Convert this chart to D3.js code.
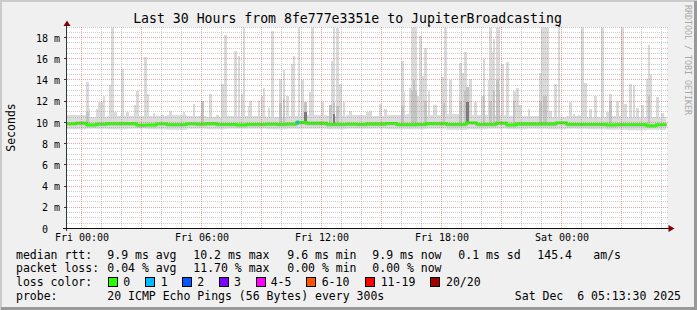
<!DOCTYPE html>
<html><head><meta charset="utf-8">
<script src="https://cdn.jsdelivr.net/npm/d3@7"></script>
<style>
html,body{margin:0;padding:0;background:#f0f0f0;}
svg{display:block;}
text{font-family:"DejaVu Sans Mono",monospace;white-space:pre;}
</style></head><body>
<svg id="c" width="697" height="310"></svg>
<script>
// ---------------- data ----------------
const titleText = "Last 30 Hours from 8fe777e3351e to JupiterBroadcasting";
const xTickHours = [0, 6, 12, 18, 24];           // hours after Fri 00:00
const xTickLabels = ["Fri 00:00", "Fri 06:00", "Fri 12:00", "Fri 18:00", "Sat 00:00"];
const yTickValues = [0, 2, 4, 6, 8, 10, 12, 14, 16, 18]; // ms
const yTickLabels = ["0", "2 m", "4 m", "6 m", "8 m", "10 m", "12 m", "14 m", "16 m", "18 m"];
const startHour = -0.75, endHour = 29.25;          // Thu 23:15 .. Sat 05:15
const yMaxMs = 19;
const stepsPerHour = 12;                           // 300 s steps
// median rtt (ms) per half hour
const medianHalfHour = [
  9.87, 9.95, 9.77, 9.85, 9.88, 9.88, 9.88, 9.75, 9.77, 9.87, 9.80, 9.80, 9.87, 9.85, 9.88,
  9.83, 9.83, 9.77, 9.83, 9.83, 9.85, 9.83, 9.85, 10.0, 9.93, 9.93, 9.83, 9.83, 9.85, 9.83,
  9.86, 9.86, 9.92, 9.80, 9.80, 9.83, 9.88, 9.88, 9.83, 9.83, 9.97, 9.83, 9.83, 9.95, 9.77,
  9.86, 9.86, 9.86, 9.86, 9.97, 9.83, 9.83, 9.83, 9.83, 9.77, 9.80, 9.80, 9.80, 9.70, 9.80
];
// low-level smoke band (ms) per hour
const smokeHiHourly = [10.7, 10.5, 10.6, 10.6, 10.6, 10.7, 10.6, 10.5, 10.6, 10.6, 10.5, 10.6, 10.7, 10.6, 10.7,
  10.6, 10.7, 10.8, 10.7, 10.8, 10.7, 10.7, 10.6, 10.6, 10.5, 10.6, 10.5, 10.6, 10.5, 10.5];
const smokeLoHourly = [9.35, 9.4, 9.35, 9.4, 9.35, 9.3, 9.4, 9.35, 9.4, 9.4, 9.35, 9.4, 9.4, 9.35, 9.4,
  9.4, 9.35, 9.35, 9.4, 9.3, 9.35, 9.4, 9.35, 9.4, 9.35, 9.4, 9.35, 9.3, 9.25, 9.3];
// maximum ping (ms) of steps whose smoke sticks out of the band
const spikeSteps = [12, 13, 18, 19, 20, 21, 22, 26, 27, 29, 33, 36, 41, 42, 47, 48, 52, 57, 62, 70, 76, 81, 86,
  90, 93, 95, 101, 103, 105, 106, 109, 110, 115, 117, 118, 121, 123, 128, 130, 132, 135, 136, 139, 141, 143, 146, 147,
  153, 158, 159, 160, 162, 164, 166, 170, 176,
  180, 182, 188, 191, 201, 202, 206, 207, 208, 209, 210, 212, 213, 215, 217, 220, 221, 225, 226, 227, 230, 236, 237,
  239, 240, 242, 245, 249, 250, 253, 254, 255, 256, 258, 259, 261, 264, 268, 269,
  270, 272, 277, 284, 285, 286, 287, 288, 290, 293, 295, 302, 304, 307, 309, 311, 314, 317, 321, 324, 326, 330, 333,
  335, 338, 340, 342, 345, 348, 349, 350, 354, 357];
const spikeMax = [13.85, 11.3, 11.3, 11.9, 11.9, 11.9, 12.5, 13.5, 20, 11.0, 15.0, 11.0, 11.6, 13.0, 16.2, 12.7, 10.9, 10.7, 11.1, 11.0, 11.75, 12.0, 12.7,
  10.7, 13.6, 18.2, 16.7, 16.3, 12.7, 20, 11.5, 12.0, 12.0, 12.5, 13.2, 11.4, 18.6, 14.1, 14.9, 12.5, 15.5, 16.3, 20, 14.0, 11.9, 12.9, 20,
  11.9, 11.6, 15.8, 20, 18.9, 13.6, 11.9, 11.1, 10.65,
  11.0, 11.1, 11.75, 11.3, 15.8, 12.85, 13.2, 20, 20, 20, 12.5, 18.1, 14.4, 17.0, 13.0, 11.6, 11.6, 14.3, 13.2, 20, 13.95, 15.6, 14.7,
  16.6, 13.3, 14.1, 11.9, 12.5, 16.0, 13.95, 20, 16.6, 17.9, 20, 20, 15.5, 15.7, 13.0, 13.0,
  13.2, 11.6, 11.3, 14.7, 20, 20, 20, 20, 11.1, 13.6, 20, 11.9, 10.8, 10.65, 20, 13.7, 11.3, 12.5, 20, 11.0, 12.7, 12.0, 20,
  11.75, 13.6, 13.5, 11.4, 11.6, 14.1, 17.3, 14.6, 12.4, 10.9];
// steps where several pings were high (medium grey smoke)
const coreSteps = [12, 81, 128, 130, 143, 158, 160, 162, 201, 207, 208, 209, 215, 226, 236, 239, 240, 250, 254, 256, 258, 259, 268, 284, 286, 287, 326, 349];
const coreMax = [11.0, 12.0, 11.8, 12.2, 11.9, 11.6, 11.8, 11.5, 11.5, 13.0, 14.0, 13.0, 12.0, 11.8, 12.0, 13.0, 13.3, 12.5, 12.0, 13.0, 14.0, 13.0, 12.0, 12.0, 12.5, 12.5, 12.0, 12.5];
// steps where most pings were high (dark smoke)
const darkSteps = [143, 160, 240];
const darkMax = [11.0, 10.8, 11.9];
// packet loss per step (pings lost of 20), only non-zero steps
const lossSteps = [138];
const lossCounts = [1];
// off-scale marks at the top edge
const offscaleSteps = [217, 295];
// legend
const lossLabels = ["0", "1", "2", "3", "4-5", "6-10", "11-19", "20/20"];
const lossColors = ["#26ff00", "#00b8ff", "#0059ff", "#7e00ff", "#ff00ff", "#ff5500", "#ff0000", "#a10000"];
const lossUpper = [0, 1, 2, 3, 5, 10, 19, 20];
const rttStats = ["9.9 ms avg", "10.2 ms max", "9.6 ms min", "9.9 ms now", "0.1 ms sd", "145.4", "am/s"];
const lossStats = ["0.04 % avg", "11.70 % max", "0.00 % min", "0.00 % now"];
const probeText = "20 ICMP Echo Pings (56 Bytes) every 300s";
const dateText = "Sat Dec  6 05:13:30 2025";

// ---------------- layout ----------------
const W = 697, H = 310;
const P = {left: 66.5, right: 666.5, top: 27, bottom: 228.5};
const svg = d3.select("#c");

const x = d3.scaleLinear().domain([startHour, endHour]).range([P.left, P.right]);
const y = d3.scaleLinear().domain([0, yMaxMs]).range([228.5, 26.9]);
const stepHour = i => startHour + i / stepsPerHour;
const minBar = 2.4;
const barX = s => { const a = x(stepHour(s)), b = x(stepHour(s + 1)); const w = Math.max(b - a, minBar); return (a + b) / 2 - w / 2; };
const barW = s => Math.max(x(stepHour(s + 1)) - x(stepHour(s)), minBar);

// background + shading frame
svg.append("rect").attr("width", W).attr("height", H).attr("fill", "#f0f0f0");
svg.append("rect").attr("x", 0).attr("y", 0).attr("width", W).attr("height", 2).attr("fill", "#cbcbcb");
svg.append("rect").attr("x", 0).attr("y", 0).attr("width", 2).attr("height", H).attr("fill", "#cbcbcb");
svg.append("rect").attr("x", W - 3).attr("y", 1).attr("width", 3).attr("height", H - 1).attr("fill", "#999");
svg.append("rect").attr("x", 1).attr("y", H - 3).attr("width", W - 1).attr("height", 3).attr("fill", "#999");

// canvas
svg.append("rect").attr("x", 67).attr("y", P.top).attr("width", 600).attr("height", 201).attr("fill", "#fff");

svg.append("defs").append("clipPath").attr("id", "plotclip")
  .append("rect").attr("x", 67).attr("y", 27.5).attr("width", 600).attr("height", 201);
const plot = svg.append("g").attr("clip-path", "url(#plotclip)");

// light smoke band
const hourIdx = d3.range(smokeHiHourly.length + 1);
const bandArea = d3.area().curve(d3.curveStepAfter)
  .x(k => x(startHour + k))
  .y0(k => y(smokeLoHourly[Math.min(k, smokeLoHourly.length - 1)]))
  .y1(k => y(smokeHiHourly[Math.min(k, smokeHiHourly.length - 1)]));
plot.append("path").attr("d", bandArea(hourIdx)).attr("fill", "#dcdcdc");

const medAt = i => medianHalfHour[Math.min(Math.floor(i / 6), medianHalfHour.length - 1)];

// light spikes
plot.append("g").attr("shape-rendering", "crispEdges").selectAll("rect")
  .data(spikeSteps.map((s, k) => ({s, v: spikeMax[k]})))
  .join("rect")
  .attr("x", d => barX(d.s))
  .attr("width", d => barW(d.s))
  .attr("y", d => y(d.v))
  .attr("height", d => y(medAt(d.s)) - y(d.v))
  .attr("fill", "#dadada");

// medium smoke band around median
const halfIdx = d3.range(medianHalfHour.length + 1);
const medBand = d3.area().curve(d3.curveStepAfter)
  .x(k => x(startHour + k * 0.5))
  .y0(k => y(medianHalfHour[Math.min(k, medianHalfHour.length - 1)] - 0.22))
  .y1(k => y(medianHalfHour[Math.min(k, medianHalfHour.length - 1)] + 0.12));
plot.append("path").attr("d", medBand(halfIdx)).attr("fill", "#c2c2c2");

// medium spikes
plot.append("g").attr("shape-rendering", "crispEdges").selectAll("rect")
  .data(coreSteps.map((s, k) => ({s, v: coreMax[k]})))
  .join("rect")
  .attr("x", d => barX(d.s))
  .attr("width", d => barW(d.s))
  .attr("y", d => y(d.v))
  .attr("height", d => y(medAt(d.s)) - y(d.v))
  .attr("fill", "#c4c4c4");

// dark band just under the median
const darkBand = d3.area().curve(d3.curveStepAfter)
  .x(k => x(startHour + k * 0.5))
  .y0(k => y(medianHalfHour[Math.min(k, medianHalfHour.length - 1)] - 0.12))
  .y1(k => y(medianHalfHour[Math.min(k, medianHalfHour.length - 1)]));
plot.append("path").attr("d", darkBand(halfIdx)).attr("fill", "#8a8a8a");

plot.append("g").attr("shape-rendering", "crispEdges").selectAll("rect")
  .data(darkSteps.map((s, k) => ({s, v: darkMax[k]})))
  .join("rect")
  .attr("x", d => barX(d.s))
  .attr("width", d => barW(d.s))
  .attr("y", d => y(d.v))
  .attr("height", d => y(medAt(d.s)) - y(d.v))
  .attr("fill", "#7a7a7a");

// grid (drawn over the smoke, as rrdtool does)
const grid = svg.append("g").attr("shape-rendering", "crispEdges").attr("stroke-dasharray", "1,1");
const minorY = d3.range(0.5, yMaxMs + 0.01, 0.5).filter(v => v % 2 !== 0);
const majorY = d3.range(2, yMaxMs, 2);
grid.selectAll(".gy").data(minorY).join("line")
  .attr("x1", 67).attr("x2", 668)
  .attr("y1", v => Math.max(27.5, Math.floor(y(v)) + 0.5)).attr("y2", v => Math.max(27.5, Math.floor(y(v)) + 0.5))
  .attr("stroke", "rgba(143,143,143,0.45)");
const minorX = d3.range(0, 30).filter(h => h % 3 !== 0);
const majorX = d3.range(0, 30, 3);
grid.selectAll(".gx").data(minorX).join("line")
  .attr("x1", h => Math.floor(x(h)) + 0.5).attr("x2", h => Math.floor(x(h)) + 0.5)
  .attr("y1", 27).attr("y2", 228)
  .attr("stroke", "rgba(143,143,143,0.45)");
grid.selectAll(".my").data(majorY).join("line")
  .attr("x1", 67).attr("x2", 668)
  .attr("y1", v => Math.floor(y(v)) + 0.5).attr("y2", v => Math.floor(y(v)) + 0.5)
  .attr("stroke", "rgba(222,80,80,0.5)");
grid.selectAll(".mx").data(majorX).join("line")
  .attr("x1", h => Math.floor(x(h)) + 0.5).attr("x2", h => Math.floor(x(h)) + 0.5)
  .attr("y1", 27).attr("y2", 228)
  .attr("stroke", "rgba(222,80,80,0.5)");

// median line coloured by loss
const medLine = d3.line().curve(d3.curveStepAfter)
  .x(k => x(startHour + k * 0.5))
  .y(k => y(medianHalfHour[Math.min(k, medianHalfHour.length - 1)]));
plot.append("path").attr("d", medLine(halfIdx)).attr("fill", "none")
  .attr("stroke", lossColors[0]).attr("stroke-width", 2.6);
const lossColorFor = n => lossColors[lossUpper.findIndex(u => n <= u)];
plot.selectAll(".loss").data(lossSteps.map((s, k) => ({s, n: lossCounts[k]}))).join("line")
  .attr("x1", d => x(stepHour(d.s))).attr("x2", d => x(stepHour(d.s + 1)) + 0.5)
  .attr("y1", d => y(medAt(d.s))).attr("y2", d => y(medAt(d.s)))
  .attr("stroke", d => lossColorFor(d.n)).attr("stroke-width", 4);

svg.selectAll(".off").data(offscaleSteps).join("rect")
  .attr("x", s => x(stepHour(s))).attr("y", 25).attr("width", 2).attr("height", 2).attr("fill", "#555");

// axes lines + arrows
const axisColor = "#2c3a36";
svg.append("line").attr("x1", 66.5).attr("x2", 66.5).attr("y1", 24).attr("y2", 231)
  .attr("stroke", axisColor).attr("shape-rendering", "crispEdges");
svg.append("line").attr("x1", 63).attr("x2", 669).attr("y1", 228.5).attr("y2", 228.5)
  .attr("stroke", "#111").attr("shape-rendering", "crispEdges");
svg.append("path").attr("d", "M67,20.5 L63.5,26 L70.5,26 Z").attr("fill", "#7f0000");
svg.append("path").attr("d", "M674.5,228.5 L668.5,225 L668.5,232 Z").attr("fill", "#7f0000");
// y ticks
svg.append("g").attr("shape-rendering", "crispEdges").selectAll("line").data(majorY).join("line")
  .attr("x1", 63.5).attr("x2", 66.5)
  .attr("y1", v => Math.floor(y(v)) + 0.5).attr("y2", v => Math.floor(y(v)) + 0.5)
  .attr("stroke", axisColor);

// y axis labels
const yAxis = d3.axisLeft(y).tickValues(yTickValues)
  .tickFormat((d, i) => yTickLabels[i]).tickSize(0).tickPadding(6.5);
const ya = svg.append("g").attr("transform", "translate(66.5,0)").call(yAxis);
ya.select(".domain").remove();
ya.selectAll("text").attr("font-family", "DejaVu Sans Mono").attr("font-size", 10).attr("fill", "#000")
  .attr("dy", "0.36em")
  .attr("dx", (d, i) => yTickLabels[i].indexOf(" ") < 0 ? -12 : 0);

// x axis labels
const xAxis = d3.axisBottom(x).tickValues(xTickHours)
  .tickFormat((d, i) => xTickLabels[i]).tickSize(0).tickPadding(0);
const xa = svg.append("g").attr("transform", "translate(0,228.5)").call(xAxis);
xa.select(".domain").remove();
xa.selectAll("text").attr("font-family", "DejaVu Sans Mono").attr("font-size", 10).attr("fill", "#000")
  .attr("y", 12.8).attr("dy", 0);

// title
svg.append("text").attr("x", 347.5).attr("y", 23).attr("text-anchor", "middle")
  .attr("font-size", 13.2).attr("fill", "#000").text(titleText);

// y axis title
svg.append("text").attr("transform", "translate(15,127.5) rotate(-90)").attr("text-anchor", "middle")
  .attr("font-size", 11.5).attr("fill", "#000").text("Seconds");

// watermark
svg.append("text").attr("transform", "translate(685,5) rotate(90)")
  .attr("font-size", 8.3).attr("fill", "#a8a8a8").text("RRDTOOL / TOBI OETIKER");

// legend
const lg = svg.append("g").attr("font-size", 11.5).attr("fill", "#000");
const rowY = [258.6, 272.3, 286, 299.7];
const put = (xx, yy, t, anchor) => lg.append("text").attr("x", xx).attr("y", yy)
  .attr("xml:space", "preserve").style("white-space", "pre")
  .attr("text-anchor", anchor || "start").text(t);
put(16, rowY[0], "median rtt:");
[107.3, 193.3, 287.3, 372.3, 458.3, 537.3, 593.3].forEach((xx, i) => put(xx, rowY[0], rttStats[i]));
put(16, rowY[1], "packet loss:");
[107.3, 193.3, 287.3, 372.3].forEach((xx, i) => put(xx, rowY[1], lossStats[i]));
put(16, rowY[2], "loss color:");
const boxX = [108.5, 145.5, 182.5, 219.5, 256.5, 306.5, 365.5, 430.5];
const labX = [123.3, 160.7, 197.3, 234, 270.7, 321.7, 380.7, 446];
lossLabels.forEach((l, i) => {
  lg.append("rect").attr("x", boxX[i]).attr("y", 277.5).attr("width", 9).attr("height", 9)
    .attr("fill", lossColors[i]).attr("stroke", "#000").attr("stroke-width", 1);
  put(labX[i], rowY[2], l);
});
put(16, rowY[3], "probe:");
put(107.3, rowY[3], probeText);
put(681, rowY[3], dateText, "end");
</script>
</body></html>
